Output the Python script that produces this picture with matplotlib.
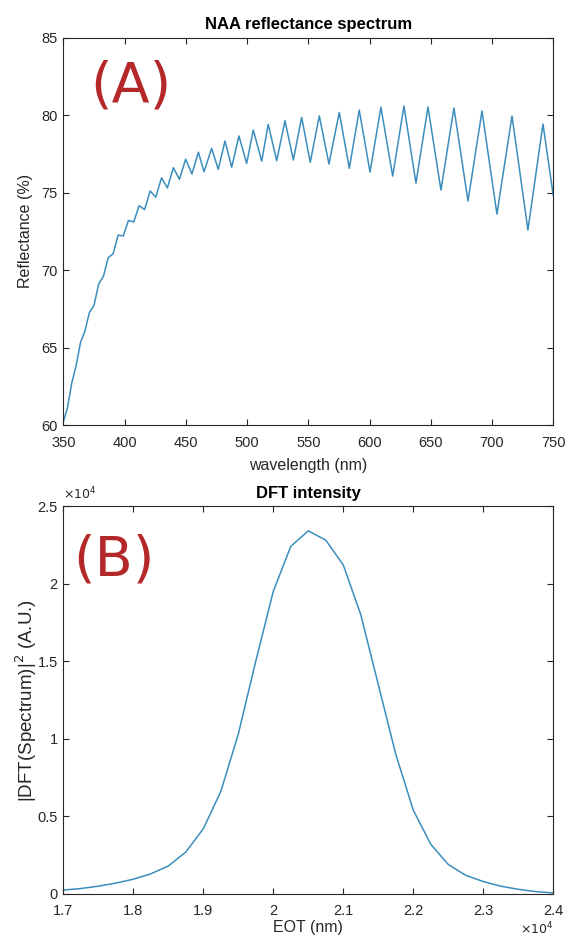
import matplotlib
matplotlib.use('Agg')
import matplotlib.pyplot as plt
from matplotlib.ticker import FuncFormatter

# (A) reflectance spectrum: extrema (nm, %)
wavelength = [350.0, 353.4, 356.9, 360.4, 364.0, 367.6, 371.3, 375.0, 378.9,
              382.8, 386.7, 390.7, 394.8, 399.0, 403.2, 407.5, 411.9, 416.4,
              420.9, 425.5, 430.2, 435.0, 439.9, 444.8, 449.9, 455.0, 460.3,
              464.9, 471.1, 476.5, 482.0, 487.5, 493.4, 499.7, 505.1, 512.0,
              517.3, 524.2, 531.0, 537.8, 544.6, 551.6, 559.0, 566.9, 575.3,
              583.5, 591.6, 600.4, 609.3, 618.9, 628.1, 637.9, 647.7, 658.3,
              668.9, 680.4, 691.8, 704.0, 716.3, 729.3, 741.6, 750.0]
reflectance = [60.2, 61.1, 62.7, 63.8, 65.3, 66.05, 67.25, 67.7, 69.1,
               69.6, 70.8, 71.05, 72.25, 72.2, 73.2, 73.1, 74.15, 73.9,
               75.1, 74.7, 75.95, 75.3, 76.6, 75.85, 77.15, 76.2, 77.6,
               76.34, 77.85, 76.5, 78.32, 76.63, 78.65, 76.88, 79.03, 77.03,
               79.4, 77.05, 79.63, 77.1, 79.85, 76.95, 79.94, 76.84, 80.17,
               76.56, 80.32, 76.32, 80.5, 76.06, 80.58, 75.61, 80.52, 75.16,
               80.45, 74.45, 80.26, 73.61, 79.94, 72.58, 79.42, 74.8]

# (B) DFT intensity, read every 0.025e4 nm
eot = [17000, 17250, 17500, 17750, 18000, 18250, 18500, 18750, 19000, 19250,
       19500, 19750, 20000, 20250, 20500, 20750, 21000, 21250, 21500, 21750,
       22000, 22250, 22500, 22750, 23000, 23250, 23500, 23750, 24000]
dft = [250, 350, 500, 700, 950, 1300, 1800, 2700, 4200, 6600,
       10300, 15000, 19500, 22400, 23400, 22800, 21200, 18000, 13500, 9000,
       5400, 3200, 1900, 1200, 800, 500, 300, 150, 70]

line_color = '#3b8dbd'
axis_color = '#262626'
label_red = '#b5282a'

plt.rcParams['font.family'] = ['Liberation Sans', 'DejaVu Sans']

fig = plt.figure(figsize=(5.67, 9.43), dpi=100)
ax1 = fig.add_axes([0.1116, 0.5493, 0.8642, 0.4109])
ax2 = fig.add_axes([0.1116, 0.052, 0.8642, 0.4114])


def style_axes(ax, xpad):
    for sp in ax.spines.values():
        sp.set_color(axis_color)
        sp.set_linewidth(0.8)
    ax.tick_params(direction='in', top=True, right=True, length=4,
                   width=0.8, colors=axis_color, labelsize=10.5, pad=4)
    ax.tick_params(axis='x', pad=xpad)


ax1.plot(wavelength, reflectance, color=line_color, lw=1.1)
ax1.set_xlim(350, 750)
ax1.set_ylim(60, 85)
ax1.set_xticks(range(350, 751, 50))
ax1.set_yticks(range(60, 86, 5))
ax1.set_title('NAA reflectance spectrum', fontsize=12, fontweight='bold', pad=6)
ax1.set_xlabel('wavelength (nm)', fontsize=11.5, color=axis_color, labelpad=6)
ax1.set_ylabel('Reflectance (%)', fontsize=11.5, color=axis_color, labelpad=6)
ax1.text(0.055, 0.835, '(A)', transform=ax1.transAxes, fontsize=40,
         color=label_red, family='DejaVu Sans', va='baseline')
style_axes(ax1, 8)

ax2.plot(eot, dft, color=line_color, lw=1.1)
ax2.set_xlim(17000, 24000)
ax2.set_ylim(0, 25000)
ax2.set_xticks(range(17000, 24001, 1000))
ax2.set_yticks(range(0, 25001, 5000))
fmt = FuncFormatter(lambda v, p: f'{v / 1e4:g}')
ax2.xaxis.set_major_formatter(fmt)
ax2.yaxis.set_major_formatter(fmt)
ax2.set_title('DFT intensity', fontsize=12, fontweight='bold', pad=6)
ax2.set_xlabel('EOT (nm)', fontsize=11.5, color=axis_color, labelpad=1)
ax2.set_ylabel('|DFT(Spectrum)|$^2$ (A.U.)', fontsize=13.5, color=axis_color, labelpad=-1)
ax2.text(0.02, 0.82, '(B)', transform=ax2.transAxes, fontsize=40,
         color=label_red, family='DejaVu Sans', va='baseline')
ax2.text(0.0, 1.01, r'$\times10^4$', transform=ax2.transAxes, fontsize=9,
         color=axis_color, va='bottom', ha='left')
ax2.text(1.0, -0.09, r'$\times10^4$', transform=ax2.transAxes, fontsize=9,
         color=axis_color, va='center', ha='right')
style_axes(ax2, 7.5)

fig.savefig('out.png', dpi=100, facecolor='white')
